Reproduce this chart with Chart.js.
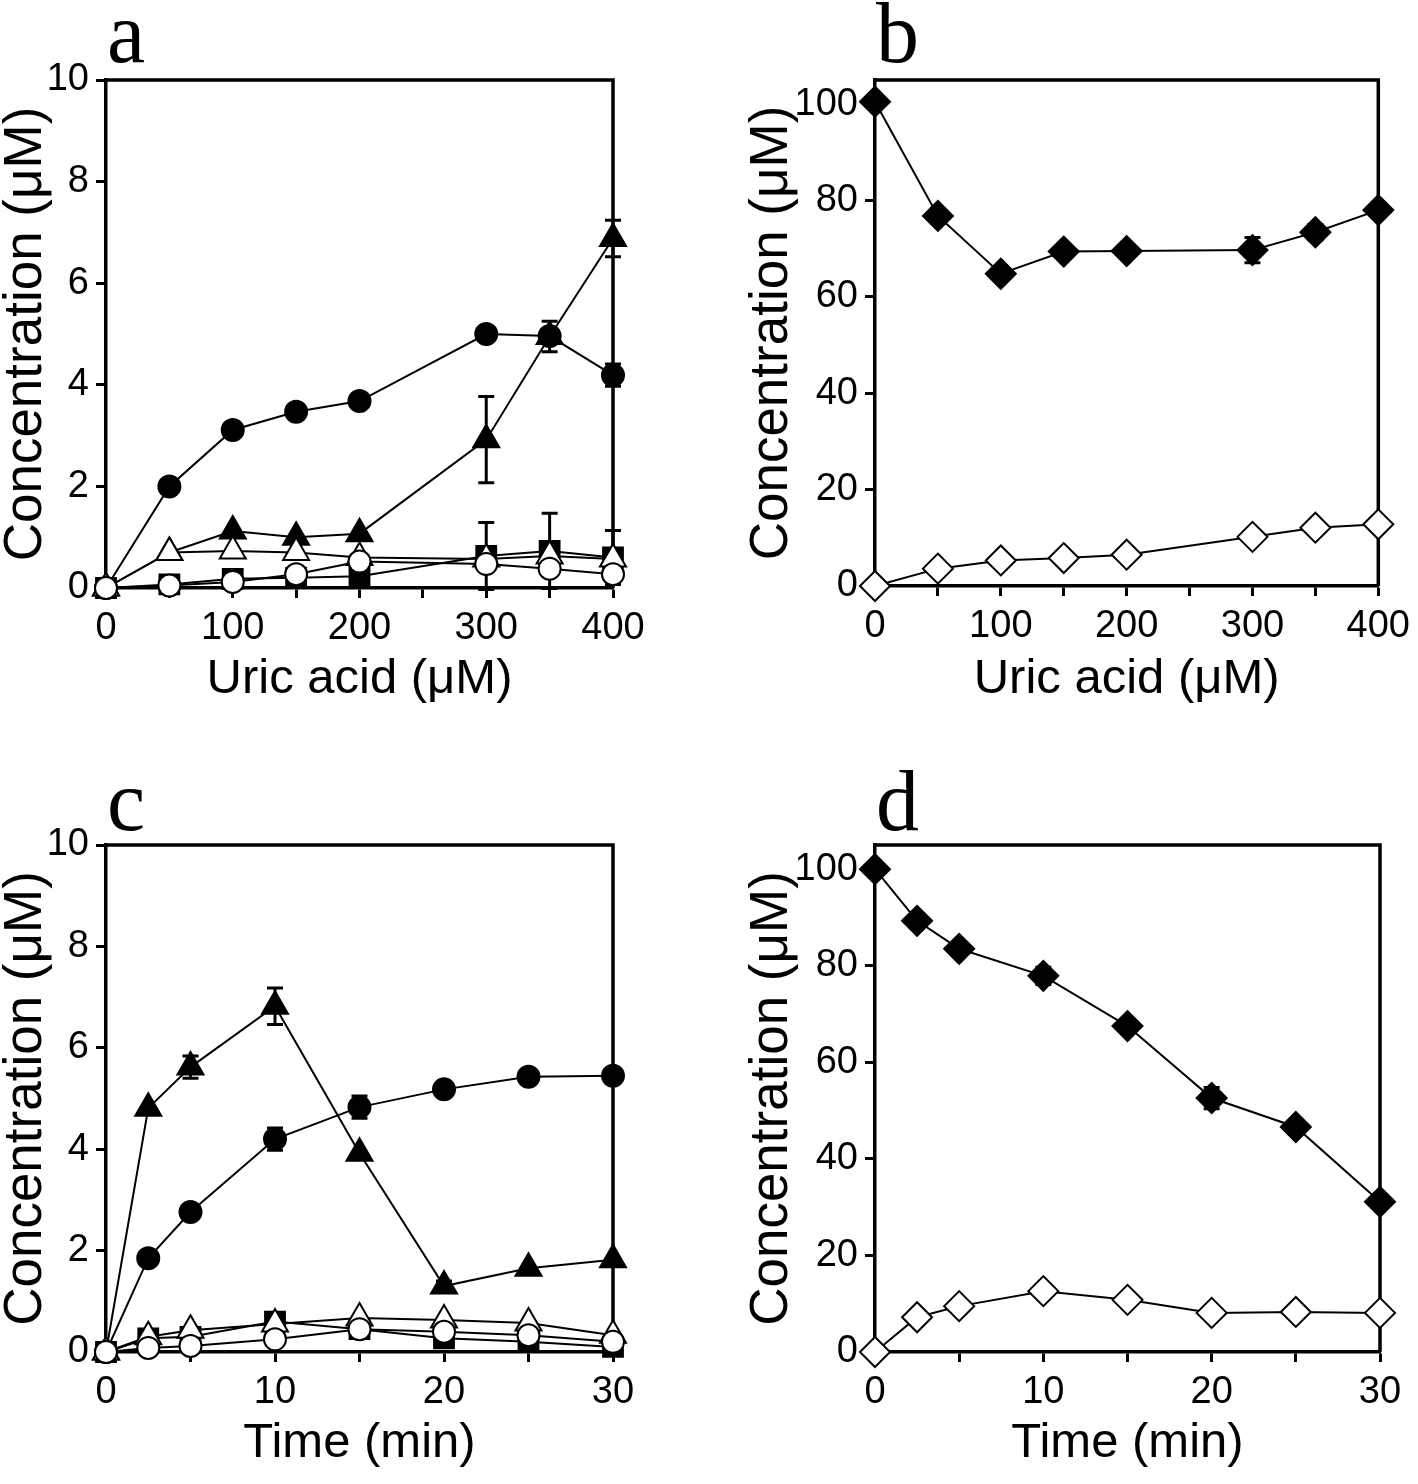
<!DOCTYPE html>
<html>
<head>
<meta charset="utf-8">
<script src="https://cdn.jsdelivr.net/npm/chart.js@4.4.1/dist/chart.umd.min.js"></script>
<style>
  body { margin: 0; background: #fff; }
  #wrap { position: relative; width: 1418px; height: 1484px; }
  canvas { position: absolute; }
</style>
</head>
<body>
<div id="wrap">
  <canvas id="chartA" width="709" height="742" style="left:0;top:0"></canvas>
  <canvas id="chartB" width="709" height="742" style="left:709px;top:0"></canvas>
  <canvas id="chartC" width="709" height="742" style="left:0;top:742px"></canvas>
  <canvas id="chartD" width="709" height="742" style="left:709px;top:742px"></canvas>
</div>
<script>
// x values
const uricAcid = [0, 50, 100, 150, 200, 300, 350, 400];
const timeMin = [0, 2.5, 5, 10, 15, 20, 25, 30];

// panel a (uric acid series)
const aFilledCircle = [0, 2.0, 3.11, 3.47, 3.68, 5.0, 4.96, 4.19];
const aFilledCircleErr = [0, 0, 0, 0, 0, 0, 0.1, 0.22];
const aFilledTriangle = [0, 0.7, 1.12, 1.0, 1.07, 2.92, 4.95, 6.88];
const aFilledTriangleErr = [0, 0, 0, 0, 0, 0.85, 0.3, 0.36];
const aOpenTriangle = [0, 0.7, 0.73, 0.7, 0.6, 0.57, 0.63, 0.57];
const aSquare = [0, 0.07, 0.18, 0.2, 0.23, 0.63, 0.73, 0.6];
const aSquareErr = [0, 0, 0, 0, 0, 0.66, 0.74, 0.53];
const aOpenCircle = [0, 0.05, 0.12, 0.27, 0.52, 0.47, 0.38, 0.27];

// panel b
const bFilledDiamond = [100.5, 76.8, 64.8, 69.4, 69.5, 69.7, 73.4, 78.0];
const bFilledDiamondErr = [0, 1.5, 0, 0, 0, 2.6, 1.6, 1.5];
const bOpenDiamond = [0, 3.6, 5.3, 5.8, 6.5, 10.2, 12.1, 12.8];

// panel c (time series)
const cFilledTriangle = [0, 4.81, 5.62, 6.82, 3.92, 1.3, 1.65, 1.82];
const cFilledTriangleErr = [0, 0, 0.22, 0.36, 0, 0.1, 0, 0];
const cFilledCircle = [0, 1.85, 2.76, 4.2, 4.83, 5.18, 5.43, 5.45];
const cFilledCircleErr = [0, 0, 0, 0.22, 0.22, 0, 0, 0];
const cOpenTriangle = [0, 0.3, 0.43, 0.55, 0.67, 0.63, 0.57, 0.33];
const cSquare = [0, 0.27, 0.3, 0.6, 0.45, 0.27, 0.2, 0.1];
const cOpenCircle = [0, 0.08, 0.12, 0.25, 0.45, 0.4, 0.33, 0.2];

// panel d
const dFilledDiamond = [100, 89.3, 83.5, 77.9, 67.5, 52.6, 46.6, 31.1];
const dFilledDiamondErr = [0, 1.5, 0, 1.8, 0, 2.2, 0, 0];
const dOpenDiamond = [0, 7.2, 9.5, 12.6, 10.8, 8.1, 8.3, 8.1];

Chart.defaults.font.family = "'Liberation Sans', Arial, sans-serif";
Chart.defaults.color = '#000';

const circle = { style: 'circle', r: 11 };
const triangle = { style: 'triangle', r: 15 };
const square = { style: 'rect', r: 14 };
const diamond = { style: 'rectRot', r: 15 };

function series(xs, ys, errs, marker, filled) {
  return {
    data: xs.map(function (x, i) { return { x: x, y: ys[i] }; }),
    errors: errs,
    borderColor: '#000',
    borderWidth: 2,
    pointStyle: marker.style,
    pointRadius: marker.r,
    pointBackgroundColor: filled ? '#000' : '#fff',
    pointBorderColor: '#000',
    pointBorderWidth: 2,
    tension: 0,
    fill: false,
    clip: false
  };
}

// box round the plot, under the markers
const frame = {
  id: 'frame',
  beforeDatasetsDraw(chart) {
    const a = chart.chartArea, ctx = chart.ctx;
    ctx.save();
    ctx.strokeStyle = '#000';
    ctx.lineWidth = 3.5;
    ctx.beginPath();
    ctx.moveTo(a.left, a.top);
    ctx.lineTo(a.right, a.top);
    ctx.lineTo(a.right, a.bottom);
    ctx.stroke();
    ctx.restore();
  }
};

const errorBars = {
  id: 'errorBars',
  beforeDatasetsDraw(chart) {
    const ctx = chart.ctx, xs = chart.scales.x, ys = chart.scales.y;
    ctx.save();
    ctx.strokeStyle = '#000';
    ctx.lineWidth = 3;
    chart.data.datasets.forEach(function (ds) {
      if (!ds.errors) return;
      ds.data.forEach(function (p, i) {
        const e = ds.errors[i];
        if (!e) return;
        const px = xs.getPixelForValue(p.x);
        const top = ys.getPixelForValue(p.y + e);
        const bot = ys.getPixelForValue(p.y - e);
        ctx.beginPath();
        ctx.moveTo(px, top); ctx.lineTo(px, bot);
        ctx.moveTo(px - 8, top); ctx.lineTo(px + 8, top);
        ctx.moveTo(px - 8, bot); ctx.lineTo(px + 8, bot);
        ctx.stroke();
      });
    });
    ctx.restore();
  }
};

const panelLabel = {
  id: 'panelLabel',
  afterDraw(chart, args, opts) {
    const ctx = chart.ctx;
    ctx.save();
    ctx.fillStyle = '#000';
    ctx.font = "86px 'Liberation Serif', 'Times New Roman', serif";
    ctx.textBaseline = 'alphabetic';
    ctx.textAlign = 'left';
    ctx.fillText(opts.text, chart.chartArea.left + 1, opts.y);
    ctx.restore();
  }
};

function makePanel(id, cfg) {
  return new Chart(document.getElementById(id), {
    type: 'line',
    data: { datasets: cfg.datasets },
    options: {
      responsive: false,
      animation: false,
      layout: { padding: { top: cfg.top, right: 709 - cfg.right, bottom: cfg.padBottom, left: 0 } },
      plugins: {
        legend: { display: false },
        tooltip: { enabled: false },
        panelLabel: { text: cfg.letter, y: cfg.letterY }
      },
      scales: {
        x: {
          type: 'linear',
          min: 0,
          max: cfg.xMax,
          grid: { drawOnChartArea: false, drawTicks: true, tickLength: 10, tickWidth: 3, color: '#000' },
          border: { display: true, width: 3.5, color: '#000' },
          ticks: {
            stepSize: cfg.xStep,
            autoSkip: false,
            maxRotation: 0,
            padding: 8,
            font: { size: 38 },
            callback: function (v) { return v % cfg.xLabelEvery === 0 ? String(v) : ''; }
          },
          title: { display: true, text: cfg.xTitle, font: { size: 49, lineHeight: 1 }, padding: 0 },
          afterFit: function (s) { s.height = cfg.xH; }
        },
        y: {
          type: 'linear',
          min: 0,
          max: cfg.yMax,
          grid: { drawOnChartArea: false, drawTicks: true, tickLength: 10, tickWidth: 3, color: '#000' },
          border: { display: true, width: 3.5, color: '#000' },
          ticks: { stepSize: cfg.yStep, includeBounds: false, padding: 7, font: { size: 38 } },
          title: { display: true, text: 'Concentration (\u03bcM)', font: { size: 53, lineHeight: 1 }, padding: { top: cfg.yTitlePad, bottom: 0 } },
          afterFit: function (s) { s.width = cfg.left; }
        }
      }
    },
    plugins: [frame, errorBars, panelLabel]
  });
}

makePanel('chartA', {
  letter: 'a', letterY: 62,
  left: 106, right: 613, top: 80, padBottom: 38, xH: 116,
  xMax: 400, xStep: 50, xLabelEvery: 100, yMax: 10, yStep: 2, yTitlePad: 0,
  xTitle: 'Uric acid (\u03bcM)',
  datasets: [
    series(uricAcid, aOpenCircle, null, circle, false),
    series(uricAcid, aOpenTriangle, null, triangle, false),
    series(uricAcid, aSquare, aSquareErr, square, true),
    series(uricAcid, aFilledTriangle, aFilledTriangleErr, triangle, true),
    series(uricAcid, aFilledCircle, aFilledCircleErr, circle, true)
  ]
});

makePanel('chartB', {
  letter: 'b', letterY: 62,
  left: 166, right: 671, top: 80, padBottom: 38, xH: 118,
  xMax: 400, xStep: 50, xLabelEvery: 100, yMax: 105, yStep: 20, yTitlePad: 37,
  xTitle: 'Uric acid (\u03bcM)',
  datasets: [
    series(uricAcid, bOpenDiamond, null, diamond, false),
    series(uricAcid, bFilledDiamond, bFilledDiamondErr, diamond, true)
  ]
});

makePanel('chartC', {
  letter: 'c', letterY: 88,
  left: 106, right: 613, top: 103, padBottom: 16, xH: 116,
  xMax: 30, xStep: 5, xLabelEvery: 10, yMax: 10, yStep: 2, yTitlePad: 0,
  xTitle: 'Time (min)',
  datasets: [
    series(timeMin, cOpenCircle, null, circle, false),
    series(timeMin, cOpenTriangle, null, triangle, false),
    series(timeMin, cSquare, null, square, true),
    series(timeMin, cFilledTriangle, cFilledTriangleErr, triangle, true),
    series(timeMin, cFilledCircle, cFilledCircleErr, circle, true)
  ]
});

makePanel('chartD', {
  letter: 'd', letterY: 88,
  left: 166, right: 671, top: 103, padBottom: 16, xH: 116,
  xMax: 30, xStep: 5, xLabelEvery: 10, yMax: 105, yStep: 20, yTitlePad: 37,
  xTitle: 'Time (min)',
  datasets: [
    series(timeMin, dOpenDiamond, null, diamond, false),
    series(timeMin, dFilledDiamond, dFilledDiamondErr, diamond, true)
  ]
});
</script>
</body>
</html>
